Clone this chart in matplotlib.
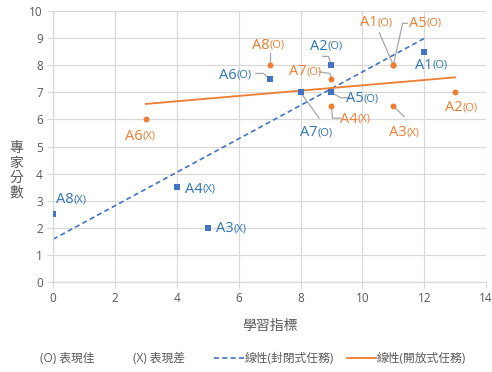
import numpy as np
import matplotlib
matplotlib.use("Agg")
import matplotlib.pyplot as plt
from matplotlib.lines import Line2D

plt.rcParams['font.family'] = ['Open Sans', 'Noto Sans CJK TC', 'DejaVu Sans']

# 封閉式任務 (closed task)
closed_names = ["A1", "A2", "A3", "A4", "A5", "A6", "A7", "A8"]
closed_tags = ["(O)", "(O)", "(X)", "(X)", "(O)", "(O)", "(O)", "(X)"]
closed_x = [12, 9, 5, 4, 9, 7, 8, 0]
closed_y = [8.5, 8, 2, 3.5, 7, 7.5, 7, 2.5]

# 開放式任務 (open task)
open_names = ["A1", "A2", "A3", "A4", "A5", "A6", "A7", "A8"]
open_tags = ["(O)", "(O)", "(X)", "(X)", "(O)", "(X)", "(O)", "(O)"]
open_x = [11, 13, 11, 9, 11, 3, 9, 7]
open_y = [8, 7, 6.5, 6.5, 8, 6, 7.5, 8]

x_ticks = [0, 2, 4, 6, 8, 10, 12, 14]
y_ticks = list(range(0, 11))

BLUE = "#4472C4"
BLUE_TXT = "#2E75B6"
ORANGE = "#ED7D31"
GRAY_TXT = "#595959"
LEADER = "#A6A6A6"

# label anchor (junction of name and tag) and optional leader path, per point
closed_label_pos = {
    "A1": (12.27, 8.0, None),
    "A2": (8.87, 8.71, [(8.72, 8.33), (8.9, 8.33), (9.0, 8.0)]),
    "A3": (5.83, 1.96, None),
    "A4": (4.82, 3.43, None),
    "A5": (10.03, 6.77, [(9.0, 7.0), (9.3, 6.8), (9.6, 6.8)]),
    "A6": (5.92, 7.64, [(6.55, 7.7), (6.8, 7.7), (7.0, 7.5)]),
    "A7": (8.54, 5.51, [(8.0, 7.0), (8.6, 6.05)]),
    "A8": (0.65, 3.03, None),
}
open_label_pos = {
    "A1": (10.5, 9.57, [(10.55, 9.2), (11.0, 8.0)]),
    "A2": (13.24, 6.43, None),
    "A3": (11.42, 5.51, [(11.0, 6.5), (11.35, 6.1)]),
    "A4": (9.84, 6.0, [(9.0, 6.5), (9.03, 6.05), (9.3, 6.05)]),
    "A5": (12.07, 9.56, [(11.45, 9.55), (11.3, 9.55), (11.0, 8.0)]),
    "A6": (2.88, 5.39, None),
    "A7": (8.19, 7.76, [(8.6, 7.76), (8.95, 7.7), (9.0, 7.55)]),
    "A8": (6.99, 8.75, [(7.0, 8.45), (7.0, 8.1)]),
}

fig = plt.figure(figsize=(4.92, 3.72), dpi=100)
ax = fig.add_axes([0.108, 0.242, 0.880, 0.728])

ax.set_xlim(0, 14)
ax.set_ylim(0, 10)
ax.set_xticks(x_ticks)
ax.set_yticks(y_ticks)
ax.grid(True, color="#D9D9D9", linewidth=0.9)
ax.set_axisbelow(True)
for s in ["top", "right"]:
    ax.spines[s].set_visible(False)
for s in ["left", "bottom"]:
    ax.spines[s].set_color("#D9D9D9")
    ax.spines[s].set_linewidth(0.9)
ax.tick_params(axis="both", colors="#D9D9D9", labelcolor=GRAY_TXT,
               labelsize=8.5, length=4, width=0.9)
ax.tick_params(axis="x", length=4, pad=3)

# trend lines over each series' x-range
cb = np.polyfit(closed_x, closed_y, 1)
xc = np.array([min(closed_x), max(closed_x)])
ax.plot(xc, np.polyval(cb, xc), color=BLUE, linestyle=(0, (3, 2)), linewidth=1.2, zorder=2)

ob = np.polyfit(open_x, open_y, 1)
xo = np.array([min(open_x), max(open_x)])
ax.plot(xo, np.polyval(ob, xo), color=ORANGE, linewidth=1.3, zorder=2)

ax.scatter(closed_x, closed_y, marker="s", s=18, color=BLUE, zorder=4, linewidths=0)
ax.scatter(open_x, open_y, marker="o", s=18, color=ORANGE, zorder=4, linewidths=0)


def draw_labels(names, tags, positions, color):
    for n, t in zip(names, tags):
        lx, ly, path = positions[n]
        ax.text(lx, ly, n, color=color, fontsize=10.5, ha="right", va="center", zorder=5)
        ax.text(lx, ly, t, color=color, fontsize=8, ha="left", va="center", zorder=5)
        if path:
            px, py = zip(*path)
            ax.plot(px, py, color=LEADER, linewidth=0.9, zorder=3, clip_on=False)


draw_labels(closed_names, closed_tags, closed_label_pos, BLUE_TXT)
draw_labels(open_names, open_tags, open_label_pos, ORANGE)

ax.set_xlabel("學習指標", color=GRAY_TXT, fontsize=10, labelpad=10)
ax.set_ylabel("專\n家\n分\n數", color=GRAY_TXT, fontsize=10, rotation=0,
              va="center", ha="center", linespacing=1.0, labelpad=12)
ax.yaxis.set_label_coords(-0.085, 0.41)

# legend row
ly = 1 - 358 / 372
fig.text(40 / 492, ly, "(O) 表現佳", fontsize=8.5, color=GRAY_TXT, va="center")
fig.text(133 / 492, ly, "(X) 表現差", fontsize=8.5, color=GRAY_TXT, va="center")
fig.add_artist(Line2D([214 / 492, 244 / 492], [ly, ly], color=BLUE,
                      linestyle=(0, (3, 2)), linewidth=1.2, transform=fig.transFigure))
fig.text(245 / 492, ly, "線性(封閉式任務)", fontsize=8.5, color=GRAY_TXT, va="center")
fig.add_artist(Line2D([347 / 492, 376 / 492], [ly, ly], color=ORANGE,
                      linewidth=1.3, transform=fig.transFigure))
fig.text(377 / 492, ly, "線性(開放式任務)", fontsize=8.5, color=GRAY_TXT, va="center")

fig.savefig("out.png", dpi=100)
